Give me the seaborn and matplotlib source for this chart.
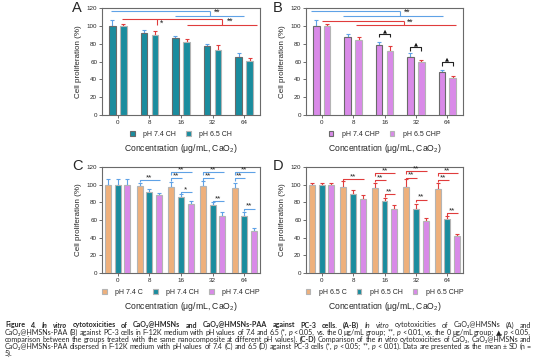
import matplotlib
matplotlib.use("Agg")
import matplotlib.pyplot as plt
from matplotlib.container import BarContainer
import numpy as np
import pandas as pd
import seaborn as sns

# ---------------- data ----------------
conc = ["0", "8", "16", "32", "64"]
ch74 = [100, 92, 86, 77, 65]
ch74_sd = [6, 3, 3, 3, 4]
ch65 = [100, 90, 82, 73, 61]
ch65_sd = [2, 4, 3, 5, 3]
chp74 = [100, 88, 78, 65, 48]
chp74_sd = [6, 3, 4, 4, 3]
chp65 = [100, 84, 72, 59, 42]
chp65_sd = [2, 4, 5, 3, 2]
c74 = [100, 98, 97, 98, 96]
c74_sd = [6, 4, 6, 6, 6]
c65 = [100, 97, 96, 97, 95]
c65_sd = [2, 7, 6, 9, 7]

lab_A = ["pH 7.4 CH", "pH 6.5 CH"]
lab_B = ["pH 7.4 CHP", "pH 6.5 CHP"]
lab_C = ["pH 7.4 C", "pH 7.4 CH", "pH 7.4 CHP"]
lab_D = ["pH 6.5 C", "pH 6.5 CH", "pH 6.5 CHP"]

# ---------------- style ----------------
sns.set_style("ticks")
plt.rcParams["font.family"] = ["Liberation Sans", "DejaVu Sans"]
plt.rcParams["mathtext.fontset"] = "custom"
plt.rcParams["mathtext.rm"] = "Liberation Sans"
plt.rcParams["mathtext.default"] = "rm"

TEAL = "#1a8c9e"
VIOLET = "#d98ae8"
ORANGE = "#eeb07c"
BLUE = "#5fa2e6"
RED = "#e03c3c"
DARKEDGE = "#6a6a6a"
LIGHTEDGE = "#b4b4b4"

fig = plt.figure(figsize=(5.36, 3.63), dpi=100)
W, H = 536.0, 363.0


def add_axes(x0, x1, ytop, ybot):
    return fig.add_axes([x0 / W, 1 - ybot / H, (x1 - x0) / W, (ybot - ytop) / H])


axA = add_axes(102, 260, 8, 115)
axB = add_axes(306, 463, 8, 115)
axC = add_axes(102, 260, 167, 273)
axD = add_axes(306, 463, 167, 273)


def make_df(series, labels):
    rows = []
    for vals, lab in zip(series, labels):
        for c, v in zip(conc, vals):
            rows.append({"conc": c, "group": lab, "val": v})
    return pd.DataFrame(rows)


def panel(ax, series, sds, labels, colors, edges, errcols, width, gap):
    df = make_df(series, labels)
    sns.barplot(data=df, x="conc", y="val", hue="group", order=conc,
                hue_order=labels, palette=colors, errorbar=None,
                width=width, gap=gap, ax=ax, linewidth=0.8, saturation=1)
    bars = [c for c in ax.containers if isinstance(c, BarContainer)]
    centers = []
    for k, cont in enumerate(bars):
        xs = []
        for p in cont.patches:
            p.set_edgecolor(edges[k])
            p.set_linewidth(0.8)
            p.set_zorder(3)
            xs.append(p.get_x() + p.get_width() / 2)
        centers.append(xs)
    for k, xs in enumerate(centers):
        ax.errorbar(xs, series[k], yerr=[np.zeros(len(sds[k])), sds[k]],
                    fmt="none", ecolor=errcols[k], elinewidth=0.8,
                    capsize=1.6, capthick=0.8, zorder=2)
    handles, labs = ax.get_legend_handles_labels()
    for k, h in enumerate(handles):
        h.set_edgecolor(edges[k])
        h.set_linewidth(0.8)
    ax.legend(handles, labs, loc="upper center", bbox_to_anchor=(0.5, -0.125),
              ncol=len(labels), frameon=False, fontsize=5.0,
              handlelength=0.65, handleheight=0.65, handletextpad=1.2,
              columnspacing=1.5, borderaxespad=0)
    ax.set_ylim(0, 120)
    ax.set_xlim(-0.5, 4.5)
    ax.set_yticks(range(0, 121, 20))
    ax.tick_params(labelsize=4.5, length=2, width=0.6, pad=1.5, color="#555555")
    ax.set_ylabel("Cell proliferation (%)", fontsize=5.8, labelpad=3)
    ax.set_xlabel("Concentration (μg/mL, CaO$_2$)", fontsize=6.2, labelpad=12)
    for s in ax.spines.values():
        s.set_visible(True)
        s.set_color("#6a6a6a")
        s.set_linewidth(0.8)
    return centers


cA = panel(axA, [ch74, ch65], [ch74_sd, ch65_sd], lab_A, [TEAL, TEAL],
           [DARKEDGE, LIGHTEDGE], [BLUE, RED], 0.7, 0.4)
cB = panel(axB, [chp74, chp65], [chp74_sd, chp65_sd], lab_B, [VIOLET, VIOLET],
           [DARKEDGE, LIGHTEDGE], [BLUE, RED], 0.7, 0.4)
cC = panel(axC, [c74, ch74, chp74], [c74_sd, ch74_sd, chp74_sd], lab_C,
           [ORANGE, TEAL, VIOLET], [LIGHTEDGE, LIGHTEDGE, LIGHTEDGE],
           [BLUE, BLUE, BLUE], 0.92, 0.38)
cD = panel(axD, [c65, ch65, chp65], [c65_sd, ch65_sd, chp65_sd], lab_D,
           [ORANGE, TEAL, VIOLET], [LIGHTEDGE, LIGHTEDGE, LIGHTEDGE],
           [RED, RED, RED], 0.92, 0.38)


def seg(ax, xs, ys, color, lw=0.8):
    ax.plot(xs, ys, color=color, lw=lw, clip_on=False, zorder=5,
            solid_capstyle="butt")


def stars(ax, x, y, s="**", ha="left", fs=6.2):
    ax.text(x, y, s, fontsize=fs, ha=ha, va="center", color="#222222",
            clip_on=False, zorder=6)


# ---- A ----
seg(axA, [cA[0][0] - 0.05, 2.93], [117, 117], BLUE)
seg(axA, [2.93, 2.93], [117, 111], BLUE)
seg(axA, [cA[0][2], cA[0][4] + 0.18], [111, 111], BLUE)
stars(axA, 3.05, 115.5)
seg(axA, [cA[1][0] - 0.05, 3.3], [107.5, 107.5], RED)
seg(axA, [cA[1][1] + 0.06, cA[1][1] + 0.06], [107.5, 101], RED)
stars(axA, 1.32, 102.5, "*")
seg(axA, [3.3, 3.3], [107.5, 101], RED)
seg(axA, [cA[1][2], cA[1][4] + 0.23], [101, 101], RED)
stars(axA, 3.45, 105)

# ---- B ----
seg(axB, [-0.34, 2.49], [117, 117], BLUE)
seg(axB, [2.49, 2.49], [117, 111], BLUE)
seg(axB, [0.69, 3.87], [111, 111], BLUE)
stars(axB, 2.62, 115.5)
seg(axB, [0.01, 2.62], [105.5, 105.5], RED)
seg(axB, [2.62, 2.62], [105.5, 101], RED)
seg(axB, [1.09, 4.28], [101, 101], RED)
stars(axB, 2.72, 104)
for i, yb in zip([2, 3, 4], [91, 76, 59]):
    x0, x1 = cB[0][i], cB[1][i]
    seg(axB, [x0, x0, x1, x1], [yb - 4, yb, yb, yb - 4], "#222222")
    axB.text((x0 + x1) / 2, yb + 3.5, "▲", fontsize=3.8, ha="center",
             va="center", color="#111111", family=["DejaVu Sans"])


# ---- C / D ----
def pair(ax, cen, i, a, b, y, color, s="**"):
    x0, x1 = cen[a][i], cen[b][i]
    seg(ax, [x0, x0, x1 + 0.04], [y - 3, y, y], color)
    stars(ax, (x0 + x1) / 2, y + 2.6, s, ha="center", fs=5.8)


pair(axC, cC, 1, 0, 2, 105.5, BLUE)
for i, yt in zip([2, 3, 4], [92, 81.5, 73]):
    pair(axC, cC, i, 0, 2, 114.5, BLUE)
    pair(axC, cC, i, 0, 1, 107, BLUE)
    pair(axC, cC, i, 1, 2, yt, BLUE, "*" if i == 2 else "**")

pair(axD, cD, 1, 0, 2, 106.5, RED)
for i, yu, yl, yt in zip([2, 3, 4], [113, 115.5, 113], [105.5, 108, 105.5],
                         [89.5, 83, 67.5]):
    pair(axD, cD, i, 0, 2, yu, RED)
    pair(axD, cD, i, 0, 1, yl, RED)
    pair(axD, cD, i, 1, 2, yt, RED)

# panel letters
for letter, x, y in [("A", 72, 8), ("B", 273, 8), ("C", 72, 166), ("D", 273, 166)]:
    fig.text(x / W, 1 - y / H, letter, fontsize=10.5, va="center", ha="left")

# ---------------- caption ----------------
caption_lines = [
    [("Figure 4.", "bold"), ("In vitro", "bolditalic"),
     ("cytotoxicities of CaO₂@HMSNs and CaO₂@HMSNs-PAA against PC-3 cells. (A-B)", "bold"),
     ("In vitro", "italic"), ("cytotoxicities of CaO₂@HMSNs (A) and", "normal")],
    [("CaO₂@HMSNs-PAA (B) against PC-3 cells in F-12K medium with pH values of 7.4 and 6.5 (*,", "normal"),
     ("p", "italic"), ("< 0.05, vs. the 0 μg/mL group; **,", "normal"), ("p", "italic"),
     ("< 0.01, vs. the 0 μg/mL group; ▲,", "normal"), ("p", "italic"), ("< 0.05,", "normal")],
    [("comparison between the groups treated with the same nanocomposite at different pH values).", "normal"),
     ("(C-D)", "bold"), ("Comparison of the", "normal"), ("in vitro", "italic"),
     ("cytotoxicities of CaO₂, CaO₂@HMSNs and", "normal")],
    [("CaO₂@HMSNs-PAA dispersed in F-12K medium with pH values of 7.4 (C) and 6.5 (D) against PC-3 cells (*,", "normal"),
     ("p", "italic"), ("< 0.05; **,", "normal"), ("p", "italic"),
     ("< 0.01). Data are presented as the mean ± SD (n =", "normal")],
    [("5).", "normal")],
]
styles = {"bold": dict(weight="bold"), "bolditalic": dict(weight="bold", style="italic"),
          "italic": dict(style="italic"), "normal": dict()}
renderer = fig.canvas.get_renderer()
cap_fs = 5.1
x_left, x_right = 5.0, 531.0
for li, line in enumerate(caption_lines):
    words = []
    for text, st in line:
        for w in text.split(" "):
            if w:
                words.append((w, st))
    y = 325 + li * 7.2
    fs = cap_fs
    for attempt in range(2):
        arts, widths = [], []
        for w, st in words:
            t = fig.text(0, 1 - y / H, w, fontsize=fs, va="center", ha="left",
                         family=["Lato", "DejaVu Sans"], **styles[st])
            arts.append(t)
            widths.append(t.get_window_extent(renderer).width)
        need = sum(widths) + 1.3 * (len(words) - 1)
        if need > (x_right - x_left) and attempt == 0:
            for t in arts:
                t.remove()
            fs = fs * (x_right - x_left) / need
            continue
        break
    if li < len(caption_lines) - 1 and len(words) > 1:
        gap = (x_right - x_left - sum(widths)) / (len(words) - 1)
    else:
        gap = 1.6
    x = x_left
    for t, wd in zip(arts, widths):
        t.set_x(x / W)
        x += wd + gap

fig.savefig("out.png", dpi=100)
